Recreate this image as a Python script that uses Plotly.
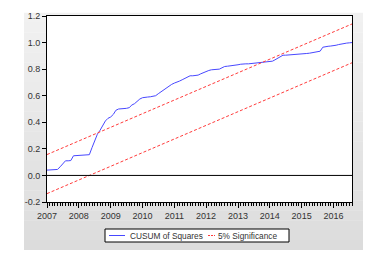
import plotly.graph_objects as go
import pandas as pd

# ---- data ----
dates = pd.date_range("2007-01-01", "2016-08-01", freq="MS").strftime("%Y-%m-%d").tolist()
cusum_sq = [
    0.040, 0.040, 0.041, 0.042, 0.045, 0.065, 0.090, 0.110, 0.110, 0.112,
    0.148, 0.150, 0.151, 0.152, 0.153, 0.154, 0.156, 0.210, 0.260, 0.310,
    0.340, 0.380, 0.410, 0.430, 0.440, 0.460, 0.490, 0.500, 0.500, 0.500,
    0.505, 0.510, 0.530, 0.540, 0.560, 0.575, 0.585, 0.590, 0.590, 0.592,
    0.595, 0.600, 0.615, 0.630, 0.645, 0.660, 0.675, 0.685, 0.695, 0.700,
    0.710, 0.720, 0.730, 0.745, 0.750, 0.750, 0.752, 0.755, 0.765, 0.775,
    0.785, 0.790, 0.795, 0.797, 0.800, 0.800, 0.810, 0.820, 0.822, 0.824,
    0.825, 0.828, 0.833, 0.837, 0.840, 0.840, 0.840, 0.842, 0.843, 0.845,
    0.848, 0.852, 0.855, 0.857, 0.858, 0.860, 0.870, 0.880, 0.895, 0.905,
    0.905, 0.906, 0.907, 0.908, 0.910, 0.910, 0.913, 0.915, 0.918, 0.920,
    0.925, 0.928, 0.932, 0.935, 0.965, 0.970, 0.972, 0.974, 0.975, 0.980,
    0.985, 0.990, 0.993, 0.996, 0.998, 1.000,
]
band_dates = [dates[0], dates[-1]]
upper_5pct = [0.157, 1.140]
lower_5pct = [-0.137, 0.848]
year_ticks = [dates[0]] + [f"{y}-01-01" for y in range(2008, 2017)]
year_labels = [str(y) for y in range(2007, 2017)]
y_ticks = [-0.2, 0.0, 0.2, 0.4, 0.6, 0.8, 1.0, 1.2]
y_labels = ["-0.2", "0.0", "0.2", "0.4", "0.6", "0.8", "1.0", "1.2"]
legend_names = ["CUSUM of Squares", "5% Significance"]

RED = "#ff3b3b"
BLUE = "#4848ff"
TXT = "#333333"

fig = go.Figure()
fig.add_trace(go.Scatter(x=dates, y=cusum_sq, mode="lines", name=legend_names[0],
                         line=dict(color=BLUE, width=1), hoverinfo="skip"))
fig.add_trace(go.Scatter(x=band_dates, y=upper_5pct, mode="lines", name=legend_names[1],
                         line=dict(color=RED, width=1, dash="3px,2px"), hoverinfo="skip"))
fig.add_trace(go.Scatter(x=band_dates, y=lower_5pct, mode="lines", name=legend_names[1],
                         line=dict(color=RED, width=1, dash="3px,2px"), hoverinfo="skip"))

# pixel -> paper helpers
L, R, T, B = 47, 352, 16, 202
W, H = R - L, B - T
def fx(x): return (x - L) / W
def fy(y): return (B - y) / H

shapes = []
# grey gradient panel behind the plot
px0, px1, py0, py1 = 24, 363, 13, 250
n = 24
for i in range(n):
    ya = py0 + (py1 - py0) * i / n
    yb = py0 + (py1 - py0) * (i + 1) / n
    c = int(round(0xf1 - (0xf1 - 0xdc) * i / (n - 1)))
    shapes.append(dict(type="rect", xref="paper", yref="paper", layer="below",
                       x0=fx(px0), x1=fx(px1), y0=fy(yb), y1=fy(ya) + 0.001,
                       line=dict(width=0), fillcolor=f"rgb({c},{c},{c})"))
# white plot area
shapes.append(dict(type="rect", xref="paper", yref="paper", layer="below",
                   x0=0, x1=1, y0=0, y1=1, line=dict(width=0), fillcolor="white"))
# zero line
shapes.append(dict(type="line", xref="paper", yref="y", x0=0, x1=1, y0=0, y1=0,
                   line=dict(color="black", width=1), layer="above"))
# legend box
shapes.append(dict(type="rect", xref="paper", yref="paper", x0=fx(105), x1=fx(289),
                   y0=fy(242), y1=fy(229), line=dict(color="black", width=1),
                   fillcolor="white", layer="above"))
ly = 235.5
shapes.append(dict(type="line", xref="paper", yref="paper", x0=fx(109), x1=fx(125),
                   y0=fy(ly), y1=fy(ly), line=dict(color=BLUE, width=1)))
shapes.append(dict(type="line", xref="paper", yref="paper", x0=fx(208), x1=fx(215),
                   y0=fy(ly), y1=fy(ly), line=dict(color=RED, width=1, dash="2px,1px")))
annotations = [
    dict(xref="paper", yref="paper", x=fx(128), y=fy(ly), text=legend_names[0],
         xanchor="left", yanchor="middle", showarrow=False,
         font=dict(size=8.3, color=TXT)),
    dict(xref="paper", yref="paper", x=fx(216), y=fy(ly), text=legend_names[1],
         xanchor="left", yanchor="middle", showarrow=False,
         font=dict(size=8.3, color=TXT)),
]
fig.update_layout(shapes=shapes, annotations=annotations)

fig.update_layout(
    width=372, height=260,
    margin=dict(l=L, r=372 - R, t=T, b=260 - B),
    paper_bgcolor="white", plot_bgcolor="white",
    font=dict(family="Liberation Sans, Arial, sans-serif", size=9, color=TXT),
    showlegend=False, hovermode=False,
)
fig.update_xaxes(
    range=[dates[0], dates[-1]], tickmode="array", tickvals=year_ticks, ticktext=year_labels,
    ticks="outside", ticklen=5, tickcolor="black", tickwidth=1,
    minor=dict(dtick="M1", tick0="2007-01-01", ticks="outside", ticklen=3, tickcolor="black"),
    showline=True, linecolor="black", linewidth=1, mirror=True,
    showgrid=False, zeroline=False, tickfont=dict(size=9, color=TXT),
)
fig.update_yaxes(
    range=[-0.2, 1.2], tickmode="array", tickvals=y_ticks, ticktext=y_labels,
    ticks="outside", ticklen=4, tickcolor="black",
    showline=True, linecolor="black", linewidth=1, mirror=True,
    showgrid=False, zeroline=False, tickfont=dict(size=9, color=TXT),
)

fig.write_html("out.html", config={"displayModeBar": False, "staticPlot": True},
               post_script="document.body.style.margin='0';document.body.style.padding='0';")
